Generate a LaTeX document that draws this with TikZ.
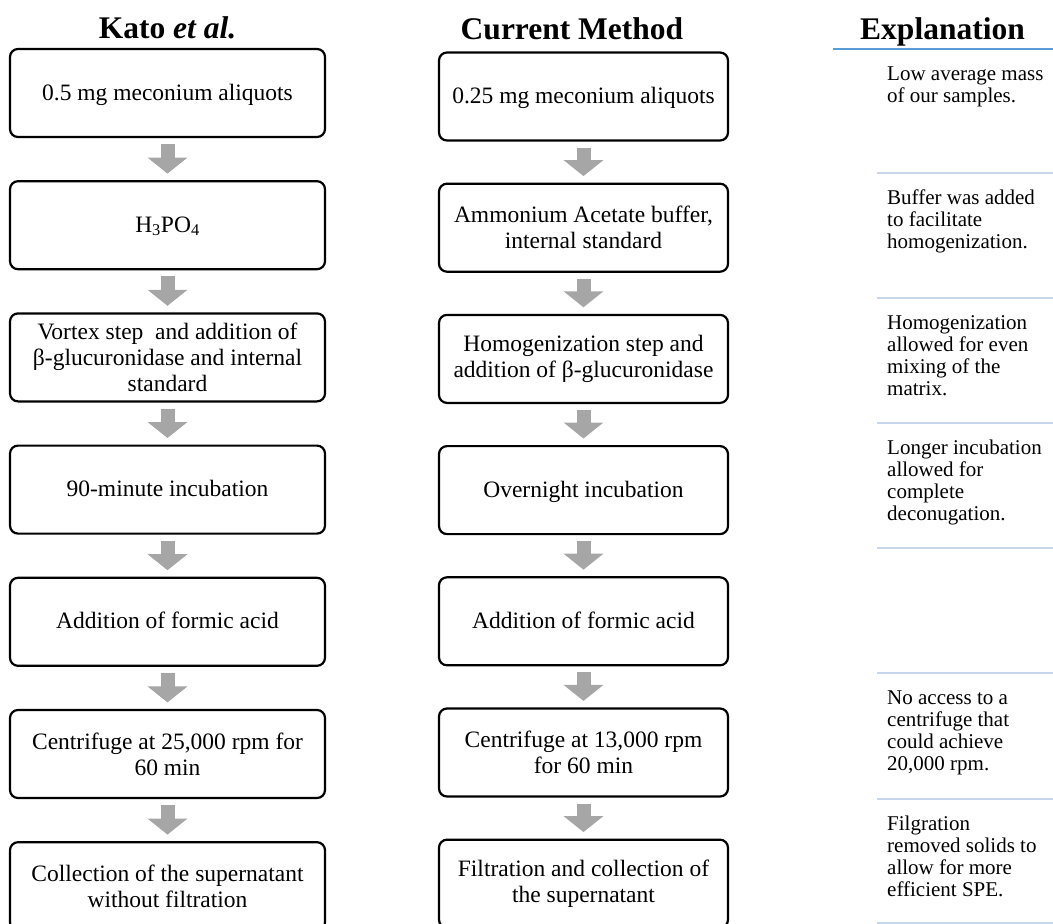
\documentclass[tikz,border=0pt]{standalone}
\usepackage{fontspec}
\setmainfont{Liberation Serif}
\usetikzlibrary{arrows.meta,calc}
\definecolor{arrowgray}{HTML}{A6A6A6}
\definecolor{headblue}{HTML}{5B9BD5}
\definecolor{seplight}{HTML}{C8D6EC}
\tikzset{
  stepbox/.style={draw=black, line width=2.2pt, rounded corners=8pt, align=center,
    minimum height=88pt, inner sep=2pt, font=\fontsize{23.5}{26}\selectfont},
  leftbox/.style={stepbox, minimum width=315pt},
  midbox/.style={stepbox, minimum width=289pt},
  flowarrow/.style={draw=arrowgray, line width=14pt, -{Triangle[width=39pt,length=16pt]}, arrowgray},
  header/.style={anchor=base, inner sep=0pt, font=\fontsize{31.5}{33}\selectfont\bfseries},
  expl/.style={anchor=north west, inner sep=0pt, align=left, font=\fontsize{21}{22}\selectfont},
  sep/.style={draw=seplight, line width=2pt}
}
\newcommand{\fs}{\rule{0pt}{14.5pt}}
\newcommand{\ls}{\rule[-5.5pt]{0pt}{25pt}}
\begin{document}
\begin{tikzpicture}[x=1pt, y=-1pt]
\useasboundingbox (0,0) rectangle (1053,924);
\clip (0,0) rectangle (1053,924);
% headers
\node[header] (h1) at (167.5,38) {Kato \textit{et al.}};
\node[header] (h2) at (572,39) {Current Method};
\node[header] (h3) at (942.5,39) {Explanation};
% left column
\node[leftbox] (l1) at (167.5,93) {\ls 0.5 mg meconium aliquots};
\node[leftbox] (l2) at (167.5,225.2) {\ls H\textsubscript{3}PO\textsubscript{4}};
\node[leftbox] (l3) at (167.5,357.4) {Vortex step~ and addition of\\β-glucuronidase and internal\\standard};
\node[leftbox] (l4) at (167.5,489.6) {\ls 90-minute incubation};
\node[leftbox] (l5) at (167.5,621.8) {\ls Addition of formic acid};
\node[leftbox] (l6) at (167.5,754) {Centrifuge at 25,000 rpm for\\60 min};
\node[leftbox] (l7) at (167.5,886.2) {Collection of the supernatant\\without filtration};
% middle column
\node[midbox] (m1) at (583.5,96.5) {\ls 0.25 mg meconium aliquots};
\node[midbox] (m2) at (583.5,227.7) {Ammonium Acetate buffer,\\internal standard};
\node[midbox] (m3) at (583.5,358.9) {Homogenization step and\\addition of β-glucuronidase};
\node[midbox] (m4) at (583.5,490.1) {\ls Overnight incubation};
\node[midbox] (m5) at (583.5,621.3) {\ls Addition of formic acid};
\node[midbox] (m6) at (583.5,752.5) {Centrifuge at 13,000 rpm\\for 60 min};
\node[midbox] (m7) at (583.5,883.7) {Filtration and collection of\\the supernatant};
% arrows
\foreach \a/\b in {l1/l2,l2/l3,l3/l4,l4/l5,l5/l6,l6/l7,m1/m2,m2/m3,m3/m4,m4/m5,m5/m6,m6/m7}{
  \draw[flowarrow] ($(\a.south)+(0,6)$) -- ($(\b.north)+(0,-6.5)$);
}
% explanation column
\draw[draw=headblue, line width=2.5pt] (833,49) -- (1053,49);
\foreach \y in {173,298,423,548,673,799,923}{
  \draw[sep] (877,\y) -- (1053,\y);
}
\node[expl] (e1) at (887,65.5) {\fs Low average mass\\of our samples.};
\node[expl] (e2) at (887,189.5) {\fs Buffer was added\\to facilitate\\homogenization.};
\node[expl] (e3) at (887,314.5) {\fs Homogenization\\allowed for even\\mixing of the\\matrix.};
\node[expl] (e4) at (887,439.5) {\fs Longer incubation\\allowed for\\complete\\deconugation.};
\node[expl] (e6) at (887,689.5) {\fs No access to a\\centrifuge that\\could achieve\\20,000 rpm.};
\node[expl] (e7) at (887,815.5) {\fs Filgration\\removed solids to\\allow for more\\efficient SPE.};
\end{tikzpicture}
\end{document}
